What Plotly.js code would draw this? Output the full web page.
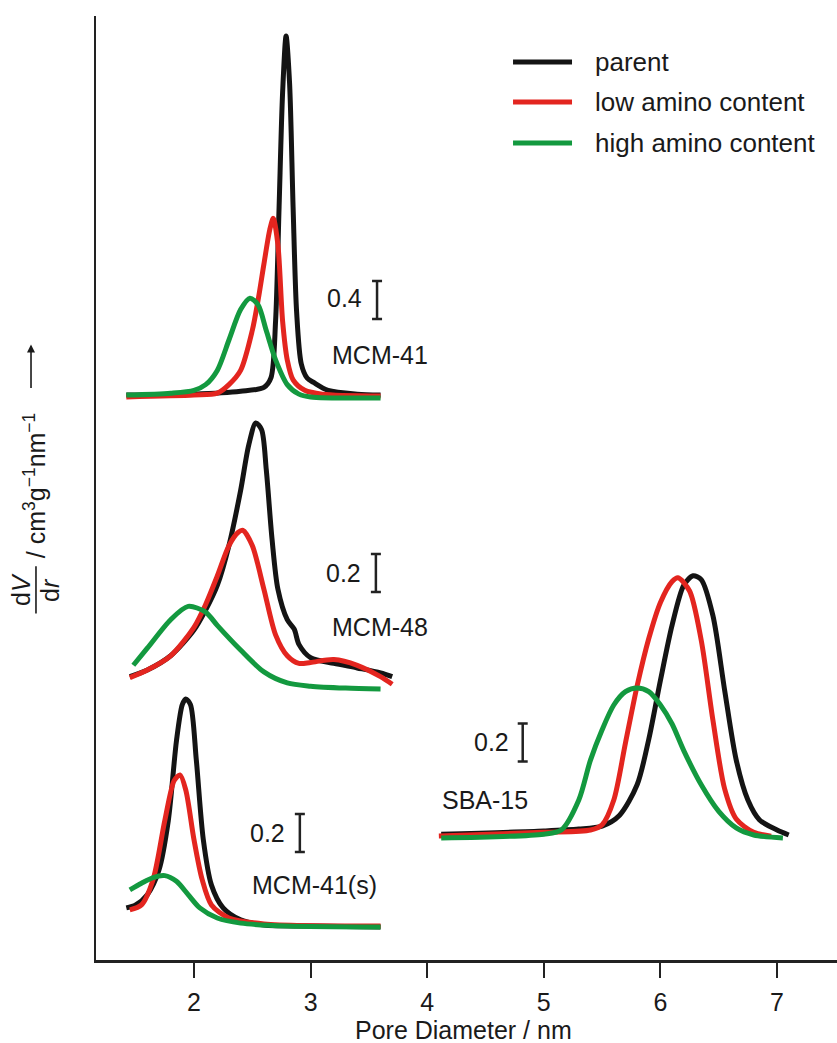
<!DOCTYPE html>
<html>
<head>
<meta charset="utf-8">
<script src="https://cdn.plot.ly/plotly-3.0.1.min.js"></script>
<style>html,body{margin:0;padding:0;background:#fff;}#chart{width:837px;height:1043px;}</style>
</head>
<body>
<div id="chart"></div>
<script>
// ---- Data (dV/dr in cm3 g-1 nm-1) ----
// MCM-41
const mcm41_parent_x = [1.42, 2.0, 2.4, 2.6, 2.66, 2.7, 2.73, 2.76, 2.79, 2.82, 2.85, 2.88, 2.92, 2.97, 3.03, 3.15, 3.4, 3.6];
const mcm41_parent_y = [0.02, 0.03, 0.06, 0.1, 0.2, 0.8, 2.0, 3.2, 3.8, 3.3, 2.0, 0.9, 0.35, 0.2, 0.15, 0.07, 0.03, 0.02];
const mcm41_low_x = [1.42, 2.0, 2.2, 2.3, 2.4, 2.5, 2.55, 2.6, 2.65, 2.68, 2.72, 2.76, 2.8, 2.85, 2.95, 3.1, 3.6];
const mcm41_low_y = [0.0, 0.02, 0.04, 0.13, 0.28, 0.7, 1.02, 1.4, 1.76, 1.88, 1.6, 0.8, 0.39, 0.18, 0.07, 0.03, 0.01];
const mcm41_high_x = [1.42, 1.8, 2.0, 2.1, 2.2, 2.3, 2.4, 2.48, 2.55, 2.62, 2.7, 2.8, 2.9, 3.0, 3.6];
const mcm41_high_y = [0.02, 0.04, 0.07, 0.13, 0.28, 0.6, 0.92, 1.04, 0.97, 0.7, 0.39, 0.13, 0.03, 0.0, -0.01];
// MCM-48
const mcm48_parent_x = [1.45, 1.6, 1.8, 2.0, 2.1, 2.2, 2.3, 2.4, 2.47, 2.53, 2.58, 2.62, 2.67, 2.72, 2.8, 2.86, 2.9, 3.0, 3.2, 3.4, 3.6, 3.7];
const mcm48_parent_y = [0.07, 0.105, 0.18, 0.315, 0.42, 0.55, 0.76, 1.05, 1.29, 1.405, 1.37, 1.16, 0.79, 0.53, 0.37, 0.32, 0.24, 0.17, 0.14, 0.116, 0.09, 0.07];
const mcm48_low_x = [1.45, 1.6, 1.8, 2.0, 2.1, 2.2, 2.3, 2.38, 2.42, 2.5, 2.6, 2.7, 2.8, 2.9, 3.0, 3.2, 3.4, 3.6, 3.7];
const mcm48_low_y = [0.065, 0.105, 0.18, 0.33, 0.45, 0.6, 0.76, 0.83, 0.84, 0.76, 0.53, 0.29, 0.18, 0.14, 0.145, 0.16, 0.13, 0.07, 0.03];
const mcm48_high_x = [1.48, 1.6, 1.8, 1.95, 2.1, 2.2, 2.4, 2.6, 2.8, 3.0, 3.3, 3.6];
const mcm48_high_y = [0.13, 0.22, 0.37, 0.44, 0.41, 0.34, 0.21, 0.095, 0.037, 0.02, 0.01, 0.005];
// MCM-41(s)
const mcm41s_parent_x = [1.42, 1.5, 1.6, 1.7, 1.78, 1.85, 1.9, 1.93, 1.97, 2.02, 2.08, 2.15, 2.25, 2.4, 2.6, 3.0, 3.6];
const mcm41s_parent_y = [0.1, 0.116, 0.17, 0.3, 0.56, 0.98, 1.17, 1.2, 1.17, 0.88, 0.46, 0.22, 0.1, 0.037, 0.01, 0.005, 0.0];
const mcm41s_low_x = [1.45, 1.55, 1.65, 1.75, 1.83, 1.88, 1.93, 2.0, 2.07, 2.15, 2.3, 2.6, 3.6];
const mcm41s_low_y = [0.09, 0.116, 0.25, 0.56, 0.77, 0.8, 0.72, 0.46, 0.25, 0.116, 0.047, 0.016, 0.005];
const mcm41s_high_x = [1.45, 1.55, 1.65, 1.75, 1.85, 1.95, 2.05, 2.2, 2.4, 2.8, 3.6];
const mcm41s_high_y = [0.195, 0.23, 0.26, 0.27, 0.24, 0.17, 0.1, 0.047, 0.02, 0.005, 0.0];
// SBA-15
const sba15_parent_x = [4.12, 5.0, 5.3, 5.5, 5.65, 5.8, 5.9, 6.0, 6.1, 6.2, 6.28, 6.35, 6.45, 6.55, 6.65, 6.75, 6.85, 7.0, 7.1];
const sba15_parent_y = [0.02, 0.037, 0.047, 0.063, 0.12, 0.28, 0.52, 0.83, 1.12, 1.33, 1.38, 1.36, 1.17, 0.78, 0.41, 0.2, 0.095, 0.042, 0.016];
const sba15_low_x = [4.1, 5.0, 5.4, 5.5, 5.6, 5.7, 5.8, 5.9, 6.0, 6.1, 6.15, 6.25, 6.35, 6.45, 6.55, 6.65, 6.8, 6.95];
const sba15_low_y = [0.01, 0.03, 0.042, 0.07, 0.2, 0.5, 0.8, 1.05, 1.24, 1.35, 1.37, 1.3, 1.04, 0.62, 0.26, 0.1, 0.03, 0.01];
const sba15_high_x = [4.12, 5.0, 5.15, 5.3, 5.4, 5.5, 5.6, 5.7, 5.8, 5.9, 6.0, 6.1, 6.2, 6.35, 6.5, 6.65, 6.8, 7.05];
const sba15_high_y = [0.0, 0.02, 0.042, 0.2, 0.41, 0.57, 0.7, 0.77, 0.79, 0.77, 0.7, 0.6, 0.46, 0.28, 0.14, 0.053, 0.016, 0.0];

const sampleNames = ['MCM-41', 'MCM-48', 'MCM-41(s)', 'SBA-15'];
const seriesNames = ['parent', 'low amino content', 'high amino content'];
const scaleBarValues = [0.4, 0.2, 0.2, 0.2];
const xTicks = [2, 3, 4, 5, 6, 7];

// ---- Display setup (offsets / scales in stacked-plot units) ----
const colors = ['#141414', '#e3251f', '#13993f'];
const samples = [
  {off: 2.963, k: 0.5, curves: [[mcm41_parent_x, mcm41_parent_y], [mcm41_low_x, mcm41_low_y], [mcm41_high_x, mcm41_high_y]],
   label: [3.165, 3.184], bar: [3.57, 3.474], barLabel: [3.46, 3.484]},
  {off: 1.421, k: 1, curves: [[mcm48_parent_x, mcm48_parent_y], [mcm48_low_x, mcm48_low_y], [mcm48_high_x, mcm48_high_y]],
   label: [3.165, 1.753], bar: [3.56, 2.037], barLabel: [3.45, 2.037]},
  {off: 0.174, k: 1, curves: [[mcm41s_parent_x, mcm41s_parent_y], [mcm41s_low_x, mcm41s_low_y], [mcm41s_high_x, mcm41s_high_y]],
   label: [2.48, 0.395], bar: [2.908, 0.668], barLabel: [2.80, 0.668]},
  {off: 0.642, k: 1, curves: [[sba15_parent_x, sba15_parent_y], [sba15_low_x, sba15_low_y], [sba15_high_x, sba15_high_y]],
   label: [4.11, 0.842], bar: [4.819, 1.145], barLabel: [4.72, 1.145]}
];

const FONT = 'Liberation Sans, Arial, Helvetica, sans-serif';
const FS = 25;
const TXT = '#1a1a1a';

const traces = [];
const annotations = [];
samples.forEach((s, si) => {
  s.curves.forEach((c, ci) => {
    traces.push({
      type: 'scatter', mode: 'lines', x: c[0],
      y: c[1].map(v => s.off + v * s.k),
      line: {color: colors[ci], width: 5, shape: 'spline', smoothing: 0.8},
      name: seriesNames[ci], showlegend: false, hoverinfo: 'skip'
    });
  });
  // scale bar: value scaleBarValues[si] drawn in data scale
  const half = scaleBarValues[si] * s.k / 2;
  traces.push({
    type: 'scatter', mode: 'markers', x: [s.bar[0]], y: [s.bar[1]],
    marker: {size: 1, color: 'rgba(0,0,0,0)'},
    error_y: {type: 'constant', value: half, color: '#222', thickness: 2.5, width: 5},
    showlegend: false, hoverinfo: 'skip'
  });
  annotations.push({x: s.barLabel[0], y: s.barLabel[1], xref: 'x', yref: 'y', text: String(scaleBarValues[si]),
    showarrow: false, xanchor: 'right', yanchor: 'middle', font: {family: FONT, size: FS, color: TXT}});
  annotations.push({x: s.label[0], y: s.label[1], xref: 'x', yref: 'y', text: sampleNames[si],
    showarrow: false, xanchor: 'left', yanchor: 'middle', font: {family: FONT, size: FS, color: TXT}});
});

// Manual legend
const shapes = [];
const legY = [0.9513, 0.9089, 0.8655];
seriesNames.forEach((n, i) => {
  shapes.push({type: 'line', xref: 'paper', yref: 'paper', x0: 0.5628, x1: 0.6424, y0: legY[i], y1: legY[i],
    line: {color: colors[i], width: 5}});
  annotations.push({xref: 'paper', yref: 'paper', x: 0.6707, y: legY[i], text: n, showarrow: false,
    xanchor: 'left', yanchor: 'middle', font: {family: FONT, size: 26, color: TXT}});
});

// Y-axis label: dV/dr fraction + units + arrow
annotations.push({xref: 'paper', yref: 'paper', x: -0.1012, y: 0.392, text: 'd<i>V</i>', textangle: -90,
  showarrow: false, xanchor: 'center', yanchor: 'middle', font: {family: FONT, size: FS, color: TXT}});
annotations.push({xref: 'paper', yref: 'paper', x: -0.0621, y: 0.392, text: 'd<i>r</i>', textangle: -90,
  showarrow: false, xanchor: 'center', yanchor: 'middle', font: {family: FONT, size: FS, color: TXT}});
shapes.push({type: 'line', xref: 'paper', yref: 'paper', x0: -0.081, x1: -0.081, y0: 0.367, y1: 0.417,
  line: {color: TXT, width: 1.6}});
annotations.push({xref: 'paper', yref: 'paper', x: -0.0823, y: 0.503,
  text: '/ cm<sup>3</sup>g<sup>\u22121</sup>nm<sup>\u22121</sup>', textangle: -90,
  showarrow: false, xanchor: 'center', yanchor: 'middle', font: {family: FONT, size: FS, color: TXT}});
annotations.push({xref: 'paper', yref: 'paper', x: -0.0877, y: 0.652, ax: 0, ay: 45, text: '',
  showarrow: true, arrowhead: 2, arrowsize: 1, arrowwidth: 1.6, arrowcolor: TXT});

// X-axis title
annotations.push({xref: 'paper', yref: 'paper', x: 0.4953, y: -0.0745, text: 'Pore Diameter / nm', showarrow: false,
  xanchor: 'center', yanchor: 'middle', font: {family: FONT, size: FS, color: TXT}});

const layout = {
  width: 837, height: 1043,
  margin: {l: 96, r: 0, t: 16, b: 83},
  paper_bgcolor: '#fff', plot_bgcolor: '#fff',
  showlegend: false,
  xaxis: {range: [1.16, 7.514], showline: true, linewidth: 2.5, linecolor: '#222', mirror: false,
    ticks: 'outside', ticklen: 15, tickwidth: 2, tickcolor: '#222', tickvals: xTicks,
    ticktext: xTicks.map(String), ticklabelstandoff: 3,
    showgrid: false, zeroline: false, tickfont: {family: FONT, size: FS, color: TXT}},
  yaxis: {range: [0, 4.968], showline: true, linewidth: 2.5, linecolor: '#222', ticks: '',
    showticklabels: false, showgrid: false, zeroline: false},
  annotations: annotations, shapes: shapes
};

Plotly.newPlot('chart', traces, layout, {staticPlot: true, displayModeBar: false});
</script>
</body>
</html>
